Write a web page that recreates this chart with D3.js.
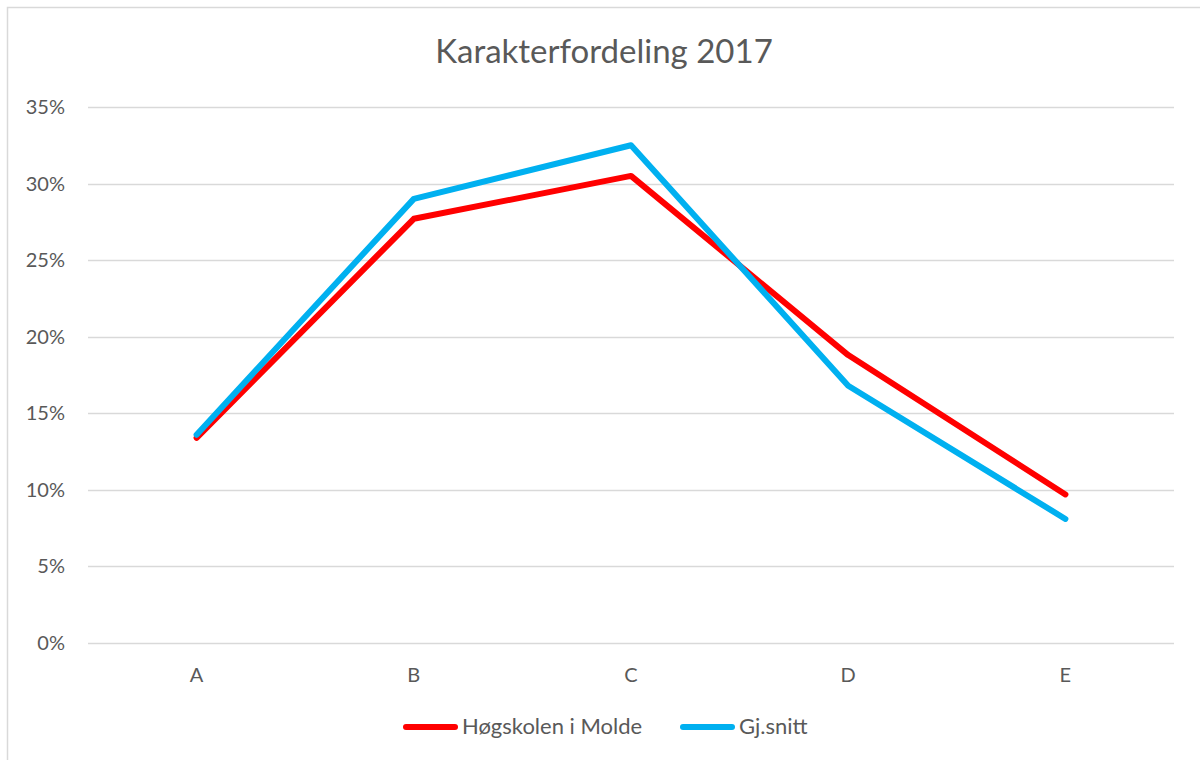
<!DOCTYPE html>
<html>
<head>
<meta charset="utf-8">
<script src="https://cdn.jsdelivr.net/npm/d3@7"></script>
<style>
  body { margin: 0; background: #fff; }
  svg { display: block; font-family: Lato, "Open Sans", sans-serif; }
</style>
</head>
<body>
<svg width="1200" height="760"></svg>
<script>
// grades and shares (percent)
const grades = ['A', 'B', 'C', 'D', 'E'];
const molde = [13.4, 27.7, 30.5, 18.8, 9.7];
const snitt = [13.6, 29.0, 32.5, 16.8, 8.1];
const yTicks = [0, 5, 10, 15, 20, 25, 30, 35];
const seriesNames = ['Høgskolen i Molde', 'Gj.snitt'];
const colors = ['#ff0000', '#00b0f0'];

const svg = d3.select('svg');
const textColor = '#595959';

// chart frame
svg.append('rect')
  .attr('x', 7.5).attr('y', 7.5)
  .attr('width', 1220).attr('height', 800)
  .attr('fill', 'none')
  .attr('stroke', '#d9d9d9')
  .attr('stroke-width', 1.5);

svg.append('text')
  .attr('x', 604).attr('y', 63)
  .attr('text-anchor', 'middle')
  .attr('fill', textColor)
  .style('font-size', '33px')
  .text('Karakterfordeling 2017');

const x = d3.scaleBand().domain(grades).range([88, 1174]);
const y = d3.scaleLinear().domain([0, 35]).range([643, 107]);

// gridlines
svg.append('g')
  .selectAll('line')
  .data(yTicks)
  .join('line')
  .attr('x1', 88).attr('x2', 1174)
  .attr('y1', d => Math.round(y(d)) + 0.5)
  .attr('y2', d => Math.round(y(d)) + 0.5)
  .attr('stroke', '#d9d9d9')
  .attr('stroke-width', 1.5);

// y labels
svg.append('g')
  .selectAll('text')
  .data(yTicks)
  .join('text')
  .attr('x', 65)
  .attr('y', d => y(d) + 7)
  .attr('text-anchor', 'end')
  .attr('fill', textColor)
  .style('font-size', '20px')
  .text(d => d + '%');

// x labels
svg.append('g')
  .selectAll('text')
  .data(grades)
  .join('text')
  .attr('x', d => x(d) + x.bandwidth() / 2)
  .attr('y', 682)
  .attr('text-anchor', 'middle')
  .attr('fill', textColor)
  .style('font-size', '20px')
  .text(d => d);

const line = d3.line()
  .x((d, i) => x(grades[i]) + x.bandwidth() / 2)
  .y(d => y(d));

[molde, snitt].forEach((vals, i) => {
  svg.append('path')
    .datum(vals)
    .attr('d', line)
    .attr('fill', 'none')
    .attr('stroke', colors[i])
    .attr('stroke-width', 6)
    .attr('stroke-linecap', 'round')
    .attr('stroke-linejoin', 'round');
});

// legend
const legendPos = [403, 680];
const leg = svg.append('g');
seriesNames.forEach((name, i) => {
  const lx = legendPos[i];
  leg.append('line')
    .attr('x1', lx + 3).attr('x2', lx + 52)
    .attr('y1', 727).attr('y2', 727)
    .attr('stroke', colors[i])
    .attr('stroke-width', 6)
    .attr('stroke-linecap', 'round');
  leg.append('text')
    .attr('x', lx + 59)
    .attr('y', 734)
    .attr('fill', textColor)
    .style('font-size', '22px')
    .text(name);
});
</script>
</body>
</html>
